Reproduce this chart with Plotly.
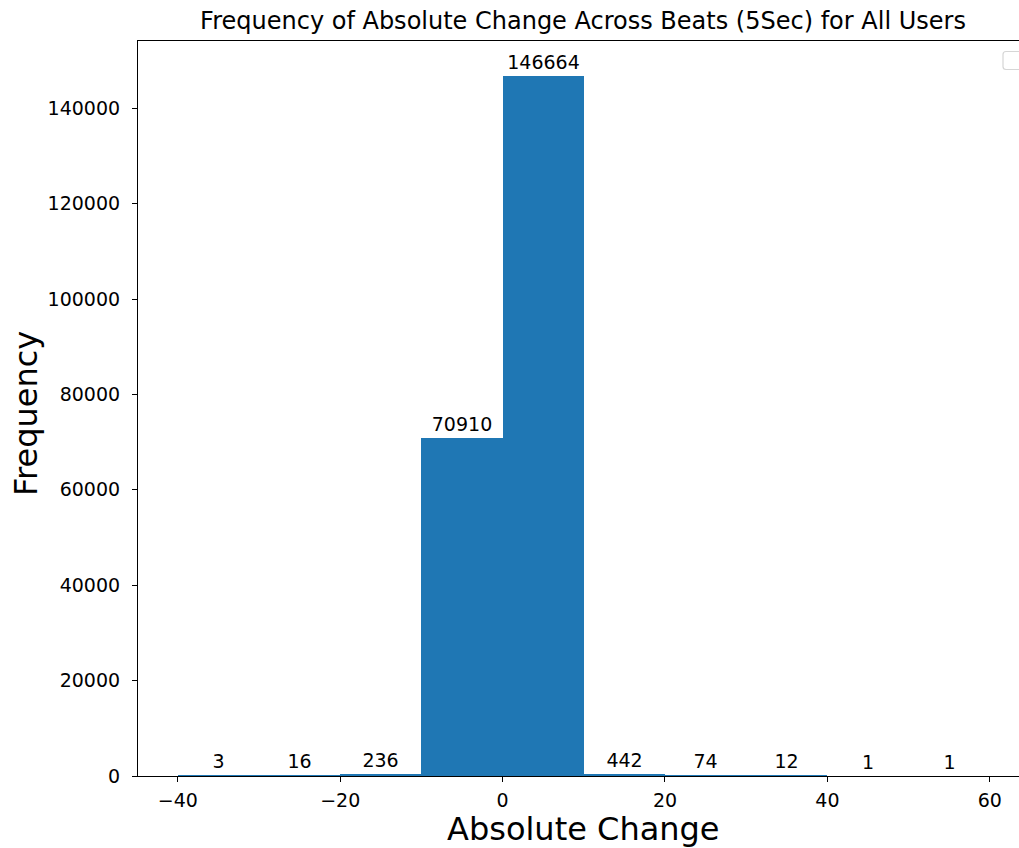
import plotly.graph_objects as go

# Histogram data (bin edges of width 10)
bin_left = [-40, -30, -20, -10, 0, 10, 20, 30, 40, 50]
bin_width = 10
counts = [3, 16, 236, 70910, 146664, 442, 74, 12, 1, 1]

x_tickvals = [-40, -20, 0, 20, 40, 60]
x_ticktext = ["\u221240", "\u221220", "0", "20", "40", "60"]
y_tickvals = [0, 20000, 40000, 60000, 80000, 100000, 120000, 140000]

centers = [b + bin_width / 2 for b in bin_left]

FONT = "DejaVu Sans"
W, H = 1019, 848
# window coordinates of the plot area
L, R, T, B = 138, 0, 41, H - 776
pw, ph = W - L - R, H - T - B


def px_x(wx):
    return (wx - L) / pw


def px_y(wy):
    return 1 - (wy - T) / ph


fig = go.Figure()
fig.add_trace(go.Bar(
    x=centers, y=counts, width=[bin_width] * len(counts),
    marker=dict(color="#1f77b4", line=dict(width=0)),
    text=[str(c) for c in counts], textposition="outside",
    textfont=dict(family=FONT, size=19, color="#000000"),
    cliponaxis=False, showlegend=False, hoverinfo="skip",
))

fig.update_layout(
    width=W, height=H,
    margin=dict(l=L, r=R, t=T, b=B),
    paper_bgcolor="white", plot_bgcolor="white",
    font=dict(family=FONT, color="#000000"),
    bargap=0,
    title=dict(text="Frequency of Absolute Change Across Beats (5Sec) for All Users",
               x=px_x(583), xref="paper", xanchor="center",
               y=1 - 21 / H, yref="container", yanchor="middle",
               font=dict(family=FONT, size=24, color="#000000")),
)

fig.update_xaxes(
    range=[-44.9, -44.9 + pw / 8.12],
    tickvals=x_tickvals, ticktext=x_ticktext,
    ticks="outside", ticklen=5, tickwidth=1.2, tickcolor="black",
    ticklabelstandoff=2,
    tickfont=dict(family=FONT, size=19, color="#000000"),
    showgrid=False, zeroline=False,
    showline=True, linecolor="black", linewidth=1.2, mirror=True,
)
fig.update_yaxes(
    range=[0, 154100],
    tickvals=y_tickvals, ticktext=[str(v) for v in y_tickvals],
    ticks="outside", ticklen=5, tickwidth=1.2, tickcolor="black",
    ticklabelstandoff=8,
    tickfont=dict(family=FONT, size=19, color="#000000"),
    showgrid=False, zeroline=False,
    showline=True, linecolor="black", linewidth=1.2, mirror=False,
)

# axis labels
fig.add_annotation(text="Absolute Change", xref="paper", yref="paper",
                   x=px_x(583), y=px_y(829),
                   xanchor="center", yanchor="middle", showarrow=False,
                   font=dict(family=FONT, size=32, color="#000000"))
fig.add_annotation(text="Frequency", xref="paper", yref="paper",
                   x=px_x(26), y=px_y(414),
                   xanchor="center", yanchor="middle", showarrow=False, textangle=-90,
                   font=dict(family=FONT, size=32, color="#000000"))

# empty legend frame (top right)
x0, x1 = px_x(1003), px_x(1030)
y0, y1 = px_y(69.5), px_y(51.5)
rx, ry = 3 / pw, 3 / ph
path = (f"M {x0+rx},{y1} L {x1-rx},{y1} Q {x1},{y1} {x1},{y1-ry} L {x1},{y0+ry} "
        f"Q {x1},{y0} {x1-rx},{y0} L {x0+rx},{y0} Q {x0},{y0} {x0},{y0+ry} "
        f"L {x0},{y1-ry} Q {x0},{y1} {x0+rx},{y1} Z")
fig.add_shape(type="path", path=path, xref="paper", yref="paper",
              line=dict(color="#d6d6d6", width=1.2), fillcolor="rgba(255,255,255,0.8)")

fig.write_html("out.html", config={"displayModeBar": False},
               post_script="document.body.style.margin='0';document.body.style.overflow='hidden';")
